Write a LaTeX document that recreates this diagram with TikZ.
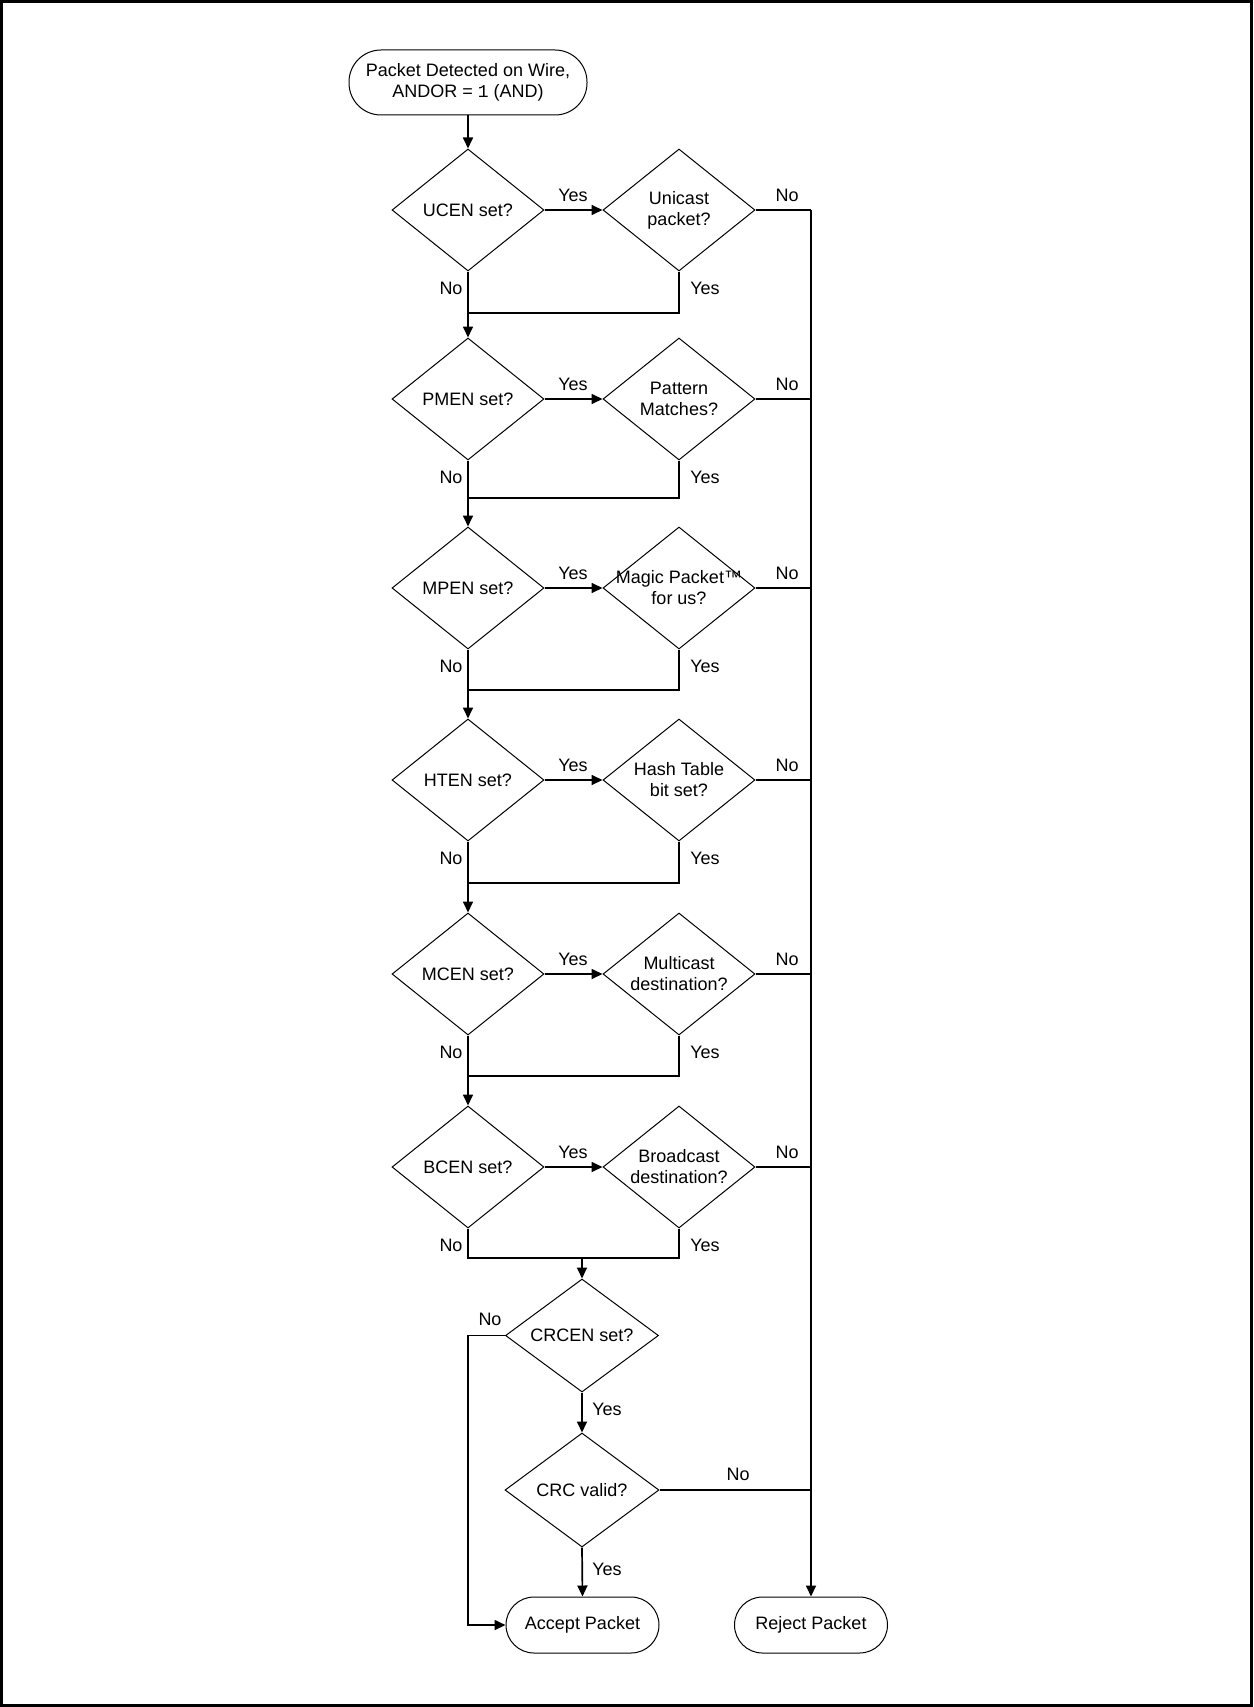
\documentclass[tikz,border=0pt]{standalone}
\usepackage{fontspec}
\setmainfont{Liberation Sans}
\setmonofont{Liberation Mono}
\usetikzlibrary{shapes.geometric,arrows.meta}
\begin{document}
\begin{tikzpicture}[x=0.5pt,y=-0.5pt,
  every node/.style={font=\fontsize{9}{10.5}\selectfont},
  dec/.style={diamond, draw, line width=0.5pt, inner sep=-60pt, minimum width=76pt, minimum height=61pt, align=center},
  term/.style={rectangle, draw, line width=0.5pt, rounded corners=14pt, minimum width=76.5pt, minimum height=28pt, inner sep=0pt, align=center},
  lbl/.style={inner sep=0pt},
  conn/.style={line width=0.85pt},
  arr/.style={conn, -{Triangle[length=5.5pt,width=5pt]}},
  frame/.style={line width=1.3pt}]
\useasboundingbox (0,0) rectangle (1253,1707);
\draw[frame] (1.3,1.3) rectangle (1251.7,1705.7);

% start
\node[term, minimum width=119pt, minimum height=32.5pt, rounded corners=16pt] (start) at (468,82.5) {Packet Detected on Wire,\\ANDOR = \texttt{1} (AND)};

% decision rows
\node[dec] (uc1) at (468,210) {UCEN set?};
\node[dec] (uc2) at (679,210) {Unicast\\packet?};
\node[dec] (pm1) at (468,399) {PMEN set?};
\node[dec] (pm2) at (679,399) {Pattern\\Matches?};
\node[dec] (mp1) at (468,588) {MPEN set?};
\node[dec] (mp2) at (679,588) {Magic Packet™\\for us?};
\node[dec] (ht1) at (468,780) {HTEN set?};
\node[dec] (ht2) at (679,780) {Hash Table\\bit set?};
\node[dec] (mc1) at (468,974) {MCEN set?};
\node[dec] (mc2) at (679,974) {Multicast\\destination?};
\node[dec] (bc1) at (468,1167) {BCEN set?};
\node[dec] (bc2) at (679,1167) {Broadcast\\destination?};
\node[dec, minimum width=76.5pt, minimum height=56.5pt] (crcen) at (582,1335.5) {CRCEN set?};
\node[dec, minimum width=77pt, minimum height=57pt] (crc) at (582,1490) {CRC valid?};

\node[term] (accept) at (582.5,1625) {Accept Packet};
\node[term] (reject) at (811,1625) {Reject Packet};

% labels per row
\foreach \r/\y in {1/210,2/399,3/588,4/780,5/974,6/1167}{
  \node[lbl] (ya\r) at (573,\y-15) {Yes};
  \node[lbl] (na\r) at (787,\y-15) {No};
  \node[lbl] (nb\r) at (451,\y+78) {No};
  \node[lbl] (yb\r) at (705,\y+78) {Yes};
}
\node[lbl] (lno1) at (490,1319) {No};
\node[lbl] (lyes1) at (607,1409) {Yes};
\node[lbl] (lno2) at (738,1474) {No};
\node[lbl] (lyes2) at (607,1569) {Yes};

% coordinates
\coordinate (m1) at (468,313);
\coordinate (m2) at (468,498);
\coordinate (m3) at (468,690);
\coordinate (m4) at (468,883);
\coordinate (m5) at (468,1076);
\coordinate (m6) at (582,1258);
\coordinate (r1) at (811,210);
\coordinate (r2) at (811,399);
\coordinate (r3) at (811,588);
\coordinate (r4) at (811,780);
\coordinate (r5) at (811,974);
\coordinate (r6) at (811,1167);
\coordinate (r7) at (811,1490);
\coordinate (k1) at (468,1335.5);

% connectors
\draw[arr] (start.south) -- (uc1.north);

\draw[arr] (uc1.east) -- (uc2.west);
\draw[conn] (uc2.east) -- (r1);
\draw[conn] (uc2.south) |- (m1);
\draw[arr] (uc1.south) -- (pm1.north);

\draw[arr] (pm1.east) -- (pm2.west);
\draw[conn] (pm2.east) -- (r2);
\draw[conn] (pm2.south) |- (m2);
\draw[arr] (pm1.south) -- (mp1.north);

\draw[arr] (mp1.east) -- (mp2.west);
\draw[conn] (mp2.east) -- (r3);
\draw[conn] (mp2.south) |- (m3);
\draw[arr] (mp1.south) -- (ht1.north);

\draw[arr] (ht1.east) -- (ht2.west);
\draw[conn] (ht2.east) -- (r4);
\draw[conn] (ht2.south) |- (m4);
\draw[arr] (ht1.south) -- (mc1.north);

\draw[arr] (mc1.east) -- (mc2.west);
\draw[conn] (mc2.east) -- (r5);
\draw[conn] (mc2.south) |- (m5);
\draw[arr] (mc1.south) -- (bc1.north);

\draw[arr] (bc1.east) -- (bc2.west);
\draw[conn] (bc2.east) -- (r6);
\draw[conn] (bc1.south) |- (m6);
\draw[conn] (bc2.south) |- (m6);
\draw[arr] (m6) -- (crcen.north);

\draw[arr] (crcen.west) -- (k1) |- (accept.west);
\draw[arr] (crcen.south) -- (crc.north);
\draw[arr] (crc.south) -- (accept.north);
\draw[conn] (crc.east) -- (r7);

\draw[arr] (r1) -- (reject.north);
\end{tikzpicture}
\end{document}
